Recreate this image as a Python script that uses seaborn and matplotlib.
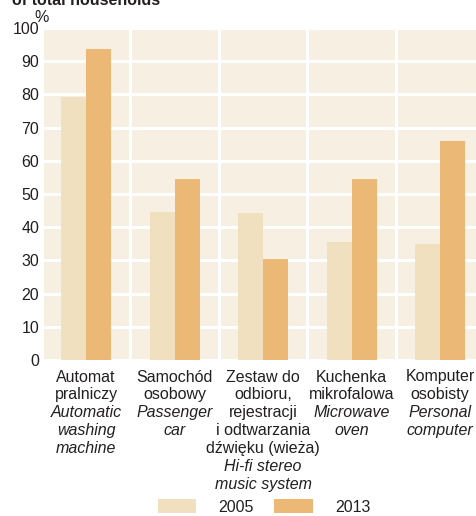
import pandas as pd
import matplotlib
matplotlib.use("Agg")
import matplotlib.pyplot as plt
import matplotlib.transforms as mtransforms
import seaborn as sns

# data
categories = ["washing", "car", "hifi", "microwave", "pc"]
labels_pl = [
    ["Automat", "pralniczy"],
    ["Samochód", "osobowy"],
    ["Zestaw do", "odbioru,", "rejestracji", "i odtwarzania", "dźwięku (wieża)"],
    ["Kuchenka", "mikrofalowa"],
    ["Komputer", "osobisty"],
]
labels_en = [
    ["Automatic", "washing", "machine"],
    ["Passenger", "car"],
    ["Hi-fi stereo", "music system"],
    ["Microwave", "oven"],
    ["Personal", "computer"],
]
years = ["2005", "2013"]
values_2005 = [79.2, 44.7, 44.4, 35.4, 34.8]
values_2013 = [93.6, 54.6, 30.3, 54.6, 66.0]
y_ticks = [0, 10, 20, 30, 40, 50, 60, 70, 80, 90, 100]

df = pd.DataFrame({
    "category": categories * 2,
    "year": [years[0]] * 5 + [years[1]] * 5,
    "value": values_2005 + values_2013,
})

text_col = "#231f20"
bg_col = "#f6efe2"
colors = ["#f1e0bf", "#ecb876"]

sns.set_style("white")
plt.rcParams["font.family"] = ["Liberation Sans Narrow", "Liberation Sans", "DejaVu Sans"]
plt.rcParams["text.color"] = text_col

W, H = 477, 516
fig = plt.figure(figsize=(W / 100, H / 100), dpi=100)
ax_left, ax_top, ax_bottom = 44, 28, 360
xmin, xmax = -0.475, 4.5
ax_w = (xmax - xmin) * 88.5
ax = fig.add_axes([ax_left / W, 1 - ax_bottom / H, ax_w / W, (ax_bottom - ax_top) / H])
ax.set_facecolor(bg_col)

sns.barplot(data=df, x="category", y="value", hue="year", palette=colors,
            width=0.565, saturation=1, linewidth=0, edgecolor="none", ax=ax, zorder=3)

ax.set_xlim(xmin, xmax)
ax.set_ylim(0, 100)
ax.set_yticks(y_ticks)
ax.set_yticklabels([str(t) for t in y_ticks], fontsize=11.5, color=text_col)
ax.tick_params(axis="y", length=0, pad=3.5)
ax.set_xticks([i + 0.5 for i in range(4)])
ax.set_xticklabels([])
ax.tick_params(axis="x", length=0)
ax.grid(True, color="white", linewidth=2.3, zorder=1)
ax.set_axisbelow(True)
ax.set_xlabel("")
ax.set_ylabel("")
for s in ax.spines.values():
    s.set_visible(False)

# category labels: polish upright, english italic
trans = mtransforms.blended_transform_factory(ax.transData, ax.transAxes)
ax_h = ax_bottom - ax_top
for i in range(len(categories)):
    lines = [(t, "normal") for t in labels_pl[i]] + [(t, "italic") for t in labels_en[i]]
    for j, (t, st) in enumerate(lines):
        base = 381.5 + j * 17.9
        ax.text(i, (ax_bottom - base) / ax_h, t, transform=trans, ha="center",
                va="baseline", fontsize=11.5, style=st, color=text_col, clip_on=False)

ax.text(-0.5, (ax_bottom - 22) / ax_h, "%", transform=trans, ha="center",
        va="baseline", fontsize=11.5, color=text_col)
fig.text(12 / W, 1 - 5 / H, "of total households", ha="left", va="baseline",
         fontsize=11.5, fontweight="bold", color=text_col)

handles, labs = ax.get_legend_handles_labels()
ax.legend(handles, labs, loc="center", bbox_to_anchor=(264 / W, 9 / H),
          bbox_transform=fig.transFigure, ncol=2, frameon=False, fontsize=11.5,
          handlelength=2.4, handleheight=0.9, handletextpad=1.4, columnspacing=1.3)

fig.savefig("out.png", dpi=100)
